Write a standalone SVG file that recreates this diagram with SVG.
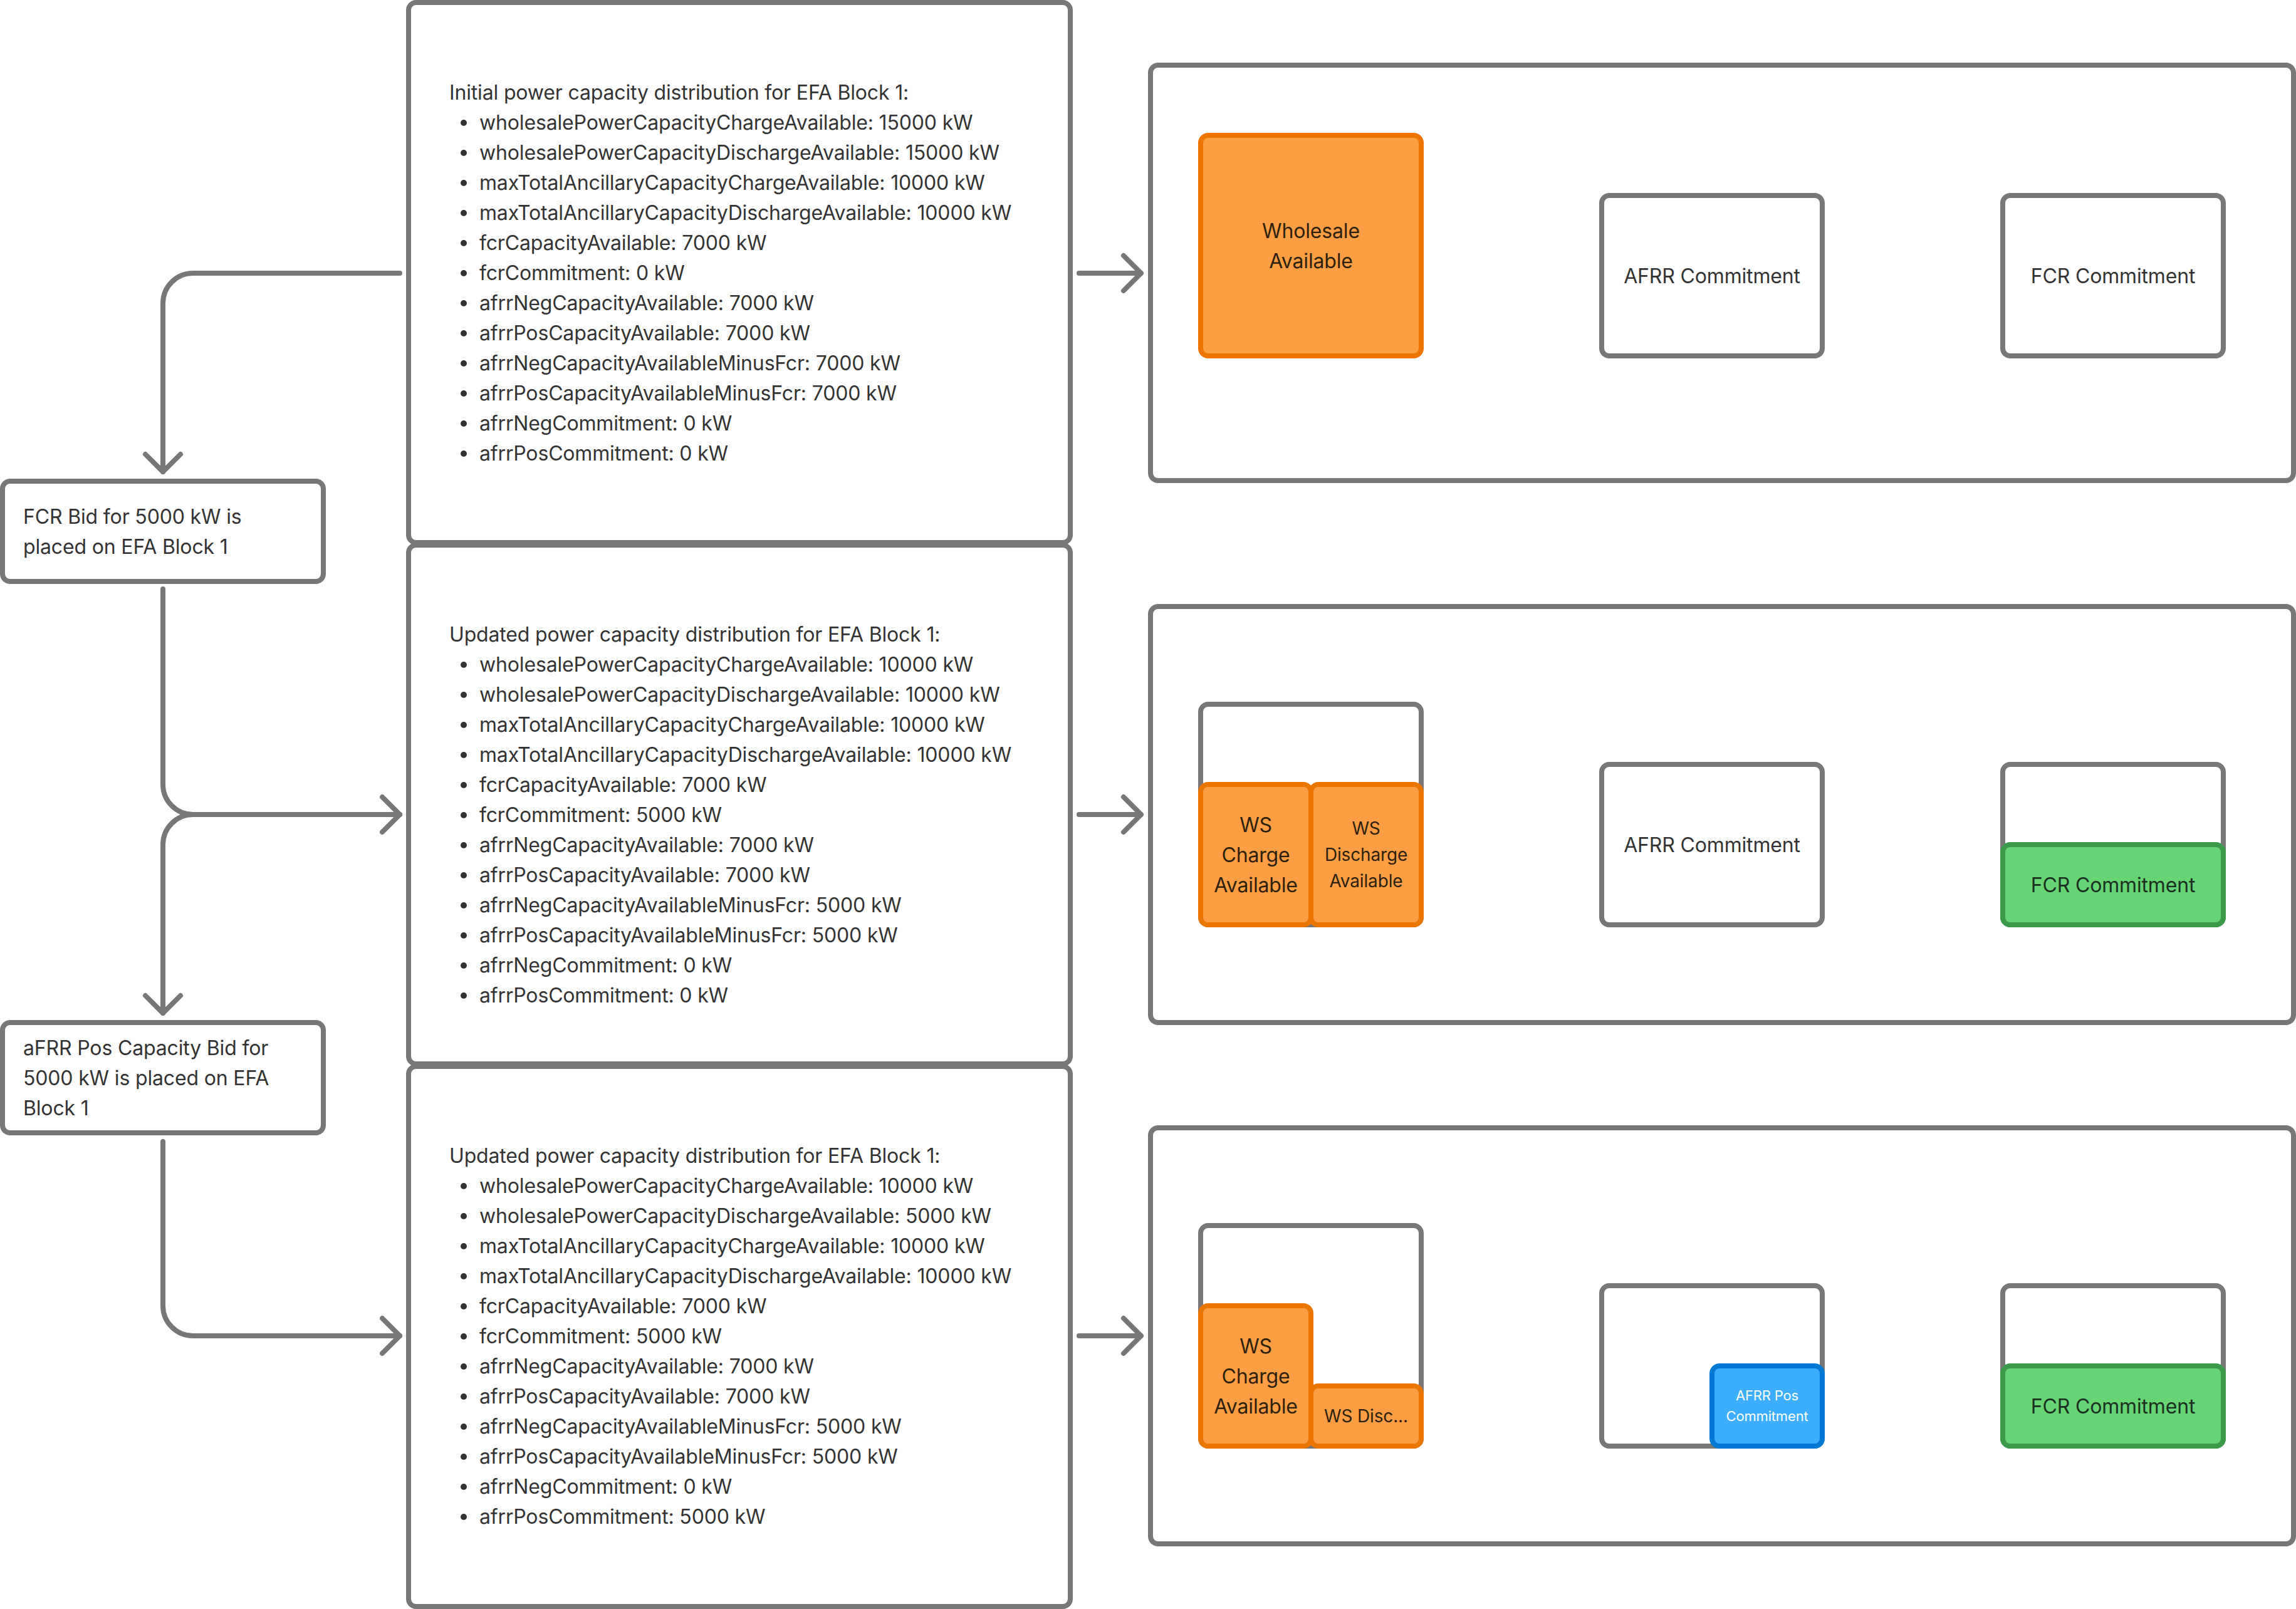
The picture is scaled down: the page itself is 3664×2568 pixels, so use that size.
<svg xmlns="http://www.w3.org/2000/svg" width="3664" height="2568" viewBox="0 0 3664 2568">
<style>
  text { font-family: Inter, "Noto Sans", "Liberation Sans", sans-serif; font-size: 32px; fill: #333333; letter-spacing: -0.16px; }
  .box { fill: #ffffff; stroke: #777777; stroke-width: 8; }
  .conn { fill: none; stroke: #777777; stroke-width: 8; stroke-linecap: round; stroke-linejoin: round; }
  .orange { fill: #FE9E44; stroke: #EB7500; stroke-width: 8; }
  .green { fill: #66D474; stroke: #3B994A; stroke-width: 8; }
  .blue { fill: #3DADFF; stroke: #0078D4; stroke-width: 8; }
  .c { text-anchor: middle; }
  .ot { fill: #2E1F0E; }
  .gt { fill: #1C2E1E; }
  .wt { fill: #ffffff; font-size: 22px; }
  .sm { font-size: 28px; }
  .dot { fill: #333333; }
</style>
<rect width="3664" height="2568" fill="#ffffff"/>

<g id="connectors">
  <path class="conn" d="M638 436 H308 A48 48 0 0 0 260 484 V753"/>
  <path class="conn" d="M232 725 L260 753 L288 725"/>
  <path class="conn" d="M260 940 V1252 A48 48 0 0 0 308 1300 H638"/>
  <path class="conn" d="M610 1272 L638 1300 L610 1328"/>
  <path class="conn" d="M638 1300 H308 A48 48 0 0 0 260 1348 V1617"/>
  <path class="conn" d="M232 1589 L260 1617 L288 1589"/>
  <path class="conn" d="M260 1822 V2084 A48 48 0 0 0 308 2132 H638"/>
  <path class="conn" d="M610 2104 L638 2132 L610 2160"/>
  <path class="conn" d="M1722 436 H1821 M1793 408 L1821 436 L1793 464"/>
  <path class="conn" d="M1722 1300 H1821 M1793 1272 L1821 1300 L1793 1328"/>
  <path class="conn" d="M1722 2132 H1821 M1793 2104 L1821 2132 L1793 2160"/>
</g>

<g id="fcr-bid">
  <rect class="box" x="4" y="768" width="512" height="160" rx="12"/>
  <text x="37" y="836">FCR Bid for 5000 kW is</text>
  <text x="37" y="884">placed on EFA Block 1</text>
</g>

<g id="afrr-bid">
  <rect class="box" x="4" y="1632" width="512" height="176" rx="12"/>
  <text x="37" y="1684">aFRR Pos Capacity Bid for</text>
  <text x="37" y="1732">5000 kW is placed on EFA</text>
  <text x="37" y="1780">Block 1</text>
</g>

<g id="initial-distribution">
  <rect class="box" x="652" y="4" width="1056" height="862" rx="12"/>
  <text x="717" y="159">Initial power capacity distribution for EFA Block 1:</text>
  <g>
    <circle class="dot" cx="740" cy="196" r="5"/><text x="765" y="207">wholesalePowerCapacityChargeAvailable: 15000 kW</text>
    <circle class="dot" cx="740" cy="244" r="5"/><text x="765" y="255">wholesalePowerCapacityDischargeAvailable: 15000 kW</text>
    <circle class="dot" cx="740" cy="292" r="5"/><text x="765" y="303">maxTotalAncillaryCapacityChargeAvailable: 10000 kW</text>
    <circle class="dot" cx="740" cy="340" r="5"/><text x="765" y="351">maxTotalAncillaryCapacityDischargeAvailable: 10000 kW</text>
    <circle class="dot" cx="740" cy="388" r="5"/><text x="765" y="399">fcrCapacityAvailable: 7000 kW</text>
    <circle class="dot" cx="740" cy="436" r="5"/><text x="765" y="447">fcrCommitment: 0 kW</text>
    <circle class="dot" cx="740" cy="484" r="5"/><text x="765" y="495">afrrNegCapacityAvailable: 7000 kW</text>
    <circle class="dot" cx="740" cy="532" r="5"/><text x="765" y="543">afrrPosCapacityAvailable: 7000 kW</text>
    <circle class="dot" cx="740" cy="580" r="5"/><text x="765" y="591">afrrNegCapacityAvailableMinusFcr: 7000 kW</text>
    <circle class="dot" cx="740" cy="628" r="5"/><text x="765" y="639">afrrPosCapacityAvailableMinusFcr: 7000 kW</text>
    <circle class="dot" cx="740" cy="676" r="5"/><text x="765" y="687">afrrNegCommitment: 0 kW</text>
    <circle class="dot" cx="740" cy="724" r="5"/><text x="765" y="735">afrrPosCommitment: 0 kW</text>
  </g>
</g>

<g id="updated-distribution-1">
  <rect class="box" x="652" y="870" width="1056" height="828" rx="12"/>
  <text x="717" y="1024">Updated power capacity distribution for EFA Block 1:</text>
  <g>
    <circle class="dot" cx="740" cy="1061" r="5"/><text x="765" y="1072">wholesalePowerCapacityChargeAvailable: 10000 kW</text>
    <circle class="dot" cx="740" cy="1109" r="5"/><text x="765" y="1120">wholesalePowerCapacityDischargeAvailable: 10000 kW</text>
    <circle class="dot" cx="740" cy="1157" r="5"/><text x="765" y="1168">maxTotalAncillaryCapacityChargeAvailable: 10000 kW</text>
    <circle class="dot" cx="740" cy="1205" r="5"/><text x="765" y="1216">maxTotalAncillaryCapacityDischargeAvailable: 10000 kW</text>
    <circle class="dot" cx="740" cy="1253" r="5"/><text x="765" y="1264">fcrCapacityAvailable: 7000 kW</text>
    <circle class="dot" cx="740" cy="1301" r="5"/><text x="765" y="1312">fcrCommitment: 5000 kW</text>
    <circle class="dot" cx="740" cy="1349" r="5"/><text x="765" y="1360">afrrNegCapacityAvailable: 7000 kW</text>
    <circle class="dot" cx="740" cy="1397" r="5"/><text x="765" y="1408">afrrPosCapacityAvailable: 7000 kW</text>
    <circle class="dot" cx="740" cy="1445" r="5"/><text x="765" y="1456">afrrNegCapacityAvailableMinusFcr: 5000 kW</text>
    <circle class="dot" cx="740" cy="1493" r="5"/><text x="765" y="1504">afrrPosCapacityAvailableMinusFcr: 5000 kW</text>
    <circle class="dot" cx="740" cy="1541" r="5"/><text x="765" y="1552">afrrNegCommitment: 0 kW</text>
    <circle class="dot" cx="740" cy="1589" r="5"/><text x="765" y="1600">afrrPosCommitment: 0 kW</text>
  </g>
</g>

<g id="updated-distribution-2">
  <rect class="box" x="652" y="1702" width="1056" height="862" rx="12"/>
  <text x="717" y="1856">Updated power capacity distribution for EFA Block 1:</text>
  <g>
    <circle class="dot" cx="740" cy="1893" r="5"/><text x="765" y="1904">wholesalePowerCapacityChargeAvailable: 10000 kW</text>
    <circle class="dot" cx="740" cy="1941" r="5"/><text x="765" y="1952">wholesalePowerCapacityDischargeAvailable: 5000 kW</text>
    <circle class="dot" cx="740" cy="1989" r="5"/><text x="765" y="2000">maxTotalAncillaryCapacityChargeAvailable: 10000 kW</text>
    <circle class="dot" cx="740" cy="2037" r="5"/><text x="765" y="2048">maxTotalAncillaryCapacityDischargeAvailable: 10000 kW</text>
    <circle class="dot" cx="740" cy="2085" r="5"/><text x="765" y="2096">fcrCapacityAvailable: 7000 kW</text>
    <circle class="dot" cx="740" cy="2133" r="5"/><text x="765" y="2144">fcrCommitment: 5000 kW</text>
    <circle class="dot" cx="740" cy="2181" r="5"/><text x="765" y="2192">afrrNegCapacityAvailable: 7000 kW</text>
    <circle class="dot" cx="740" cy="2229" r="5"/><text x="765" y="2240">afrrPosCapacityAvailable: 7000 kW</text>
    <circle class="dot" cx="740" cy="2277" r="5"/><text x="765" y="2288">afrrNegCapacityAvailableMinusFcr: 5000 kW</text>
    <circle class="dot" cx="740" cy="2325" r="5"/><text x="765" y="2336">afrrPosCapacityAvailableMinusFcr: 5000 kW</text>
    <circle class="dot" cx="740" cy="2373" r="5"/><text x="765" y="2384">afrrNegCommitment: 0 kW</text>
    <circle class="dot" cx="740" cy="2421" r="5"/><text x="765" y="2432">afrrPosCommitment: 5000 kW</text>
  </g>
</g>

<g id="panel-1">
  <rect class="box" x="1836" y="104" width="1824" height="663" rx="12"/>
  <g id="p1-wholesale">
    <rect class="orange" x="1916" y="216" width="352" height="352" rx="12"/>
    <text class="c ot" x="2092" y="380">Wholesale</text>
    <text class="c ot" x="2092" y="428">Available</text>
  </g>
  <g id="p1-afrr">
    <rect class="box" x="2556" y="312" width="352" height="256" rx="12"/>
    <text class="c" x="2732" y="452">AFRR Commitment</text>
  </g>
  <g id="p1-fcr">
    <rect class="box" x="3196" y="312" width="352" height="256" rx="12"/>
    <text class="c" x="3372" y="452">FCR Commitment</text>
  </g>
</g>

<g id="panel-2">
  <rect class="box" x="1836" y="968" width="1824" height="664" rx="12"/>
  <g id="p2-wholesale">
    <rect class="box" x="1916" y="1124" width="352" height="352" rx="12"/>
    <rect class="orange" x="1916" y="1252" width="176" height="224" rx="12"/>
    <text class="c ot" x="2004" y="1328">WS</text>
    <text class="c ot" x="2004" y="1376">Charge</text>
    <text class="c ot" x="2004" y="1424">Available</text>
    <rect class="orange" x="2092" y="1252" width="176" height="224" rx="12"/>
    <text class="c ot sm" x="2180" y="1332">WS</text>
    <text class="c ot sm" x="2180" y="1374">Discharge</text>
    <text class="c ot sm" x="2180" y="1416">Available</text>
  </g>
  <g id="p2-afrr">
    <rect class="box" x="2556" y="1220" width="352" height="256" rx="12"/>
    <text class="c" x="2732" y="1360">AFRR Commitment</text>
  </g>
  <g id="p2-fcr">
    <rect class="box" x="3196" y="1220" width="352" height="256" rx="12"/>
    <rect class="green" x="3196" y="1348" width="352" height="128" rx="12"/>
    <text class="c gt" x="3372" y="1424">FCR Commitment</text>
  </g>
</g>

<g id="panel-3">
  <rect class="box" x="1836" y="1800" width="1824" height="664" rx="12"/>
  <g id="p3-wholesale">
    <rect class="box" x="1916" y="1956" width="352" height="352" rx="12"/>
    <rect class="orange" x="1916" y="2084" width="176" height="224" rx="12"/>
    <text class="c ot" x="2004" y="2160">WS</text>
    <text class="c ot" x="2004" y="2208">Charge</text>
    <text class="c ot" x="2004" y="2256">Available</text>
    <rect class="orange" x="2092" y="2212" width="176" height="96" rx="12"/>
    <text class="c ot sm" x="2180" y="2270">WS Disc...</text>
  </g>
  <g id="p3-afrr">
    <rect class="box" x="2556" y="2052" width="352" height="256" rx="12"/>
    <rect class="blue" x="2732" y="2180" width="176" height="128" rx="12"/>
    <text class="c wt" x="2820" y="2235">AFRR Pos</text>
    <text class="c wt" x="2820" y="2268">Commitment</text>
  </g>
  <g id="p3-fcr">
    <rect class="box" x="3196" y="2052" width="352" height="256" rx="12"/>
    <rect class="green" x="3196" y="2180" width="352" height="128" rx="12"/>
    <text class="c gt" x="3372" y="2256">FCR Commitment</text>
  </g>
</g>
</svg>
